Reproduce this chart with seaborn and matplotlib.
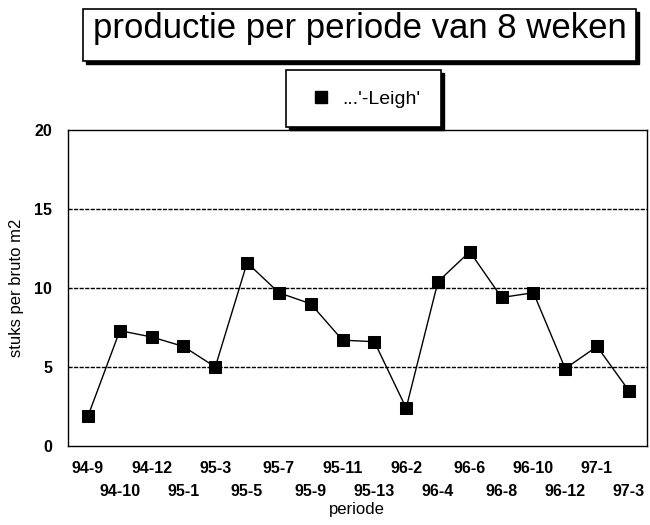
import numpy as np
import pandas as pd
import matplotlib
matplotlib.use("Agg")
import matplotlib.pyplot as plt
from matplotlib.patches import Rectangle
from matplotlib.lines import Line2D
import seaborn as sns

# --- data ---
periods = ["94-9", "94-10", "94-12", "95-1", "95-3", "95-5", "95-7", "95-9", "95-11",
           "95-13", "96-2", "96-4", "96-6", "96-8", "96-10", "96-12", "97-1", "97-3"]
stuks = [1.9, 7.3, 6.9, 6.3, 5.0, 11.6, 9.7, 9.0, 6.7,
         6.6, 2.4, 10.4, 12.3, 9.4, 9.7, 4.9, 6.3, 3.5]
series_label = "...'-Leigh'"
y_ticks = [0, 5, 10, 15, 20]

title = "productie per periode van 8 weken"
xlabel = "periode"
ylabel = "stuks per bruto m2"

df = pd.DataFrame({"pos": np.arange(len(periods)), "periode": periods, "stuks": stuks})

sns.set_style("white")
plt.rcParams["font.family"] = ["Liberation Sans", "DejaVu Sans"]
plt.rcParams["text.color"] = "black"
plt.rcParams["axes.labelcolor"] = "black"

W, H = 650, 525
fig = plt.figure(figsize=(W / 100, H / 100), dpi=100)


def fx(px):
    return px / W


def fy(py):
    return 1 - py / H


ax = fig.add_axes([fx(67.5), fy(446), fx(647) - fx(67.5), fy(130) - fy(446)])

sns.lineplot(data=df, x="pos", y="stuks", ax=ax, color="black", lw=1.0,
             marker="s", markersize=9, markeredgecolor="black",
             markerfacecolor="black", legend=False)

ax.set_xlim(-0.645, 17.57)
ax.set_ylim(0, 20)
ax.set_yticks(y_ticks)
ax.set_yticklabels([str(v) for v in y_ticks], fontsize=11.5, fontweight="bold")
ax.set_xticks(df["pos"])
ax.set_xticklabels(periods, fontsize=11.5, fontweight="bold")
ax.tick_params(axis="x", direction="in", length=5, width=1, colors="black")
ax.tick_params(axis="y", direction="out", length=3, width=1, pad=8, colors="black")
# alternate rows of period labels
for i, tick in enumerate(ax.xaxis.get_major_ticks()):
    tick.set_pad(11 if i % 2 == 0 else 27)

for v in [5, 10, 15]:
    ax.axhline(v, color="black", lw=1.0, ls=(0, (3, 1)), zorder=0)

for s in ax.spines.values():
    s.set_color("black")
    s.set_linewidth(1.0)

ax.set_xlabel(xlabel, fontsize=12, labelpad=2.5)
ax.set_ylabel(ylabel, fontsize=12, labelpad=7)


def framed_box(x0, y0, x1, y1):
    # shadow offset down/right, then white box on top
    fig.patches.append(Rectangle((fx(x0 + 2.5), fy(y1 + 2.5)), fx(x1) - fx(x0), fy(y0) - fy(y1),
                                 transform=fig.transFigure, facecolor="black",
                                 edgecolor="black", zorder=1))
    fig.patches.append(Rectangle((fx(x0), fy(y1)), fx(x1) - fx(x0), fy(y0) - fy(y1),
                                 transform=fig.transFigure, facecolor="white",
                                 edgecolor="black", lw=1.2, zorder=2))


# title box
framed_box(83, 9, 636, 61)
fig.text(fx(359.5), fy(38), title, fontsize=25, color="black",
         ha="center", va="baseline", zorder=3)

# legend box
framed_box(286, 70, 441, 127)
handle = Line2D([], [], color="black", lw=0, marker="s", markersize=9)
leg = fig.legend([handle], [series_label], loc="center",
                 bbox_to_anchor=(fx(366), fy(99)), frameon=False,
                 fontsize=14, handlelength=1.0, handletextpad=0.6)
leg.set_zorder(4)

fig.savefig("out.png", dpi=100)
